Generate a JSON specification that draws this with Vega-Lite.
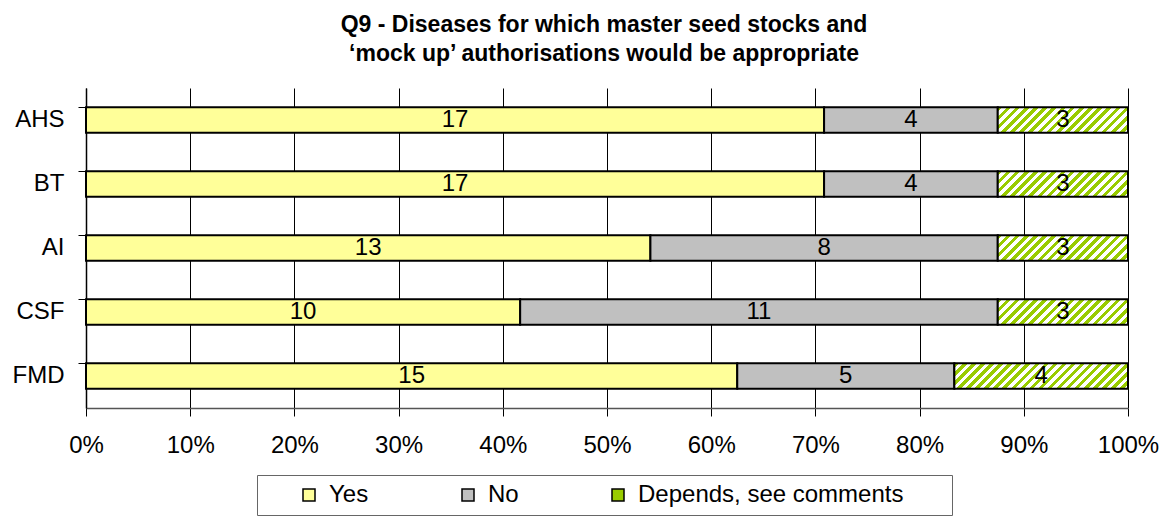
{
  "$schema": "https://vega.github.io/schema/vega-lite/v6.json",
  "width": 1042,
  "height": 320,
  "padding": {"left": 12, "top": 14, "right": 5, "bottom": 5},
  "config": {"view": {"stroke": null}, "font": "Liberation Sans"},
  "title": {
    "text": ["Q9 - Diseases for which master seed stocks and", "‘mock up’ authorisations would be appropriate"],
    "font": "Liberation Sans", "fontSize": 23, "fontWeight": "bold", "color": "black",
    "lineHeight": 29, "offset": 22, "dx": -3, "anchor": "middle"
  },
  "data": {
    "values": [
      {"disease": "AHS", "answer": "Yes", "count": 17},
      {"disease": "AHS", "answer": "No", "count": 4},
      {"disease": "AHS", "answer": "Depends, see comments", "count": 3},
      {"disease": "BT", "answer": "Yes", "count": 17},
      {"disease": "BT", "answer": "No", "count": 4},
      {"disease": "BT", "answer": "Depends, see comments", "count": 3},
      {"disease": "AI", "answer": "Yes", "count": 13},
      {"disease": "AI", "answer": "No", "count": 8},
      {"disease": "AI", "answer": "Depends, see comments", "count": 3},
      {"disease": "CSF", "answer": "Yes", "count": 10},
      {"disease": "CSF", "answer": "No", "count": 11},
      {"disease": "CSF", "answer": "Depends, see comments", "count": 3},
      {"disease": "FMD", "answer": "Yes", "count": 15},
      {"disease": "FMD", "answer": "No", "count": 5},
      {"disease": "FMD", "answer": "Depends, see comments", "count": 4}
    ]
  },
  "transform": [
    {"calculate": "indexof(['Yes','No','Depends, see comments'], datum.answer)", "as": "ord"},
    {"stack": "count", "groupby": ["disease"], "sort": [{"field": "ord", "order": "ascending"}], "offset": "normalize", "as": ["x0", "x1"]},
    {"calculate": "(datum.x0 + datum.x1) / 2", "as": "xm"}
  ],
  "encoding": {
    "y": {
      "field": "disease", "type": "nominal", "sort": ["AHS", "BT", "AI", "CSF", "FMD"],
      "scale": {"paddingInner": 0.6, "paddingOuter": 0.3},
      "axis": {
        "title": null, "bandPosition": 0, "labelFontSize": 24, "labelColor": "black",
        "labelPadding": 14, "tickSize": 8, "tickColor": "black", "domainColor": "black", "domainWidth": 1.5,
        "tickWidth": 1, "grid": false
      }
    }
  },
  "layer": [
    {
      "mark": {"type": "bar", "stroke": "black", "strokeWidth": 2},
      "encoding": {
        "x": {
          "field": "x0", "type": "quantitative", "scale": {"domain": [0, 1], "nice": false},
          "axis": {
            "title": null, "format": "%", "values": [0, 0.1, 0.2, 0.3, 0.4, 0.5, 0.6, 0.7, 0.8, 0.9, 1],
            "labelFontSize": 24, "labelColor": "black", "labelPadding": 17, "tickSize": 8,
            "tickColor": "black", "grid": true, "gridColor": "black", "gridWidth": 1, "gridOpacity": 1,
            "domainColor": "#555555", "domainWidth": 1.5, "labelFlush": false
          }
        },
        "x2": {"field": "x1"},
        "fill": {
          "condition": [
            {
              "test": "datum.answer === 'Depends, see comments' && datum.disease === 'FMD'",
              "value": {
                "gradient": "linear", "x1": 0, "y1": 0, "x2": 1.123, "y2": 0.1655,
                "stops": [
                  {"offset": 0, "color": "#99CC00"}, {"offset": 0.0227, "color": "#99CC00"}, {"offset": 0.0227, "color": "#FFFFFF"}, {"offset": 0.0455, "color": "#FFFFFF"},
                  {"offset": 0.0455, "color": "#99CC00"}, {"offset": 0.0682, "color": "#99CC00"}, {"offset": 0.0682, "color": "#FFFFFF"}, {"offset": 0.0909, "color": "#FFFFFF"},
                  {"offset": 0.0909, "color": "#99CC00"}, {"offset": 0.1136, "color": "#99CC00"}, {"offset": 0.1136, "color": "#FFFFFF"}, {"offset": 0.1364, "color": "#FFFFFF"},
                  {"offset": 0.1364, "color": "#99CC00"}, {"offset": 0.1591, "color": "#99CC00"}, {"offset": 0.1591, "color": "#FFFFFF"}, {"offset": 0.1818, "color": "#FFFFFF"},
                  {"offset": 0.1818, "color": "#99CC00"}, {"offset": 0.2045, "color": "#99CC00"}, {"offset": 0.2045, "color": "#FFFFFF"}, {"offset": 0.2273, "color": "#FFFFFF"},
                  {"offset": 0.2273, "color": "#99CC00"}, {"offset": 0.25, "color": "#99CC00"}, {"offset": 0.25, "color": "#FFFFFF"}, {"offset": 0.2727, "color": "#FFFFFF"},
                  {"offset": 0.2727, "color": "#99CC00"}, {"offset": 0.2955, "color": "#99CC00"}, {"offset": 0.2955, "color": "#FFFFFF"}, {"offset": 0.3182, "color": "#FFFFFF"},
                  {"offset": 0.3182, "color": "#99CC00"}, {"offset": 0.3409, "color": "#99CC00"}, {"offset": 0.3409, "color": "#FFFFFF"}, {"offset": 0.3636, "color": "#FFFFFF"},
                  {"offset": 0.3636, "color": "#99CC00"}, {"offset": 0.3864, "color": "#99CC00"}, {"offset": 0.3864, "color": "#FFFFFF"}, {"offset": 0.4091, "color": "#FFFFFF"},
                  {"offset": 0.4091, "color": "#99CC00"}, {"offset": 0.4318, "color": "#99CC00"}, {"offset": 0.4318, "color": "#FFFFFF"}, {"offset": 0.4545, "color": "#FFFFFF"},
                  {"offset": 0.4545, "color": "#99CC00"}, {"offset": 0.4773, "color": "#99CC00"}, {"offset": 0.4773, "color": "#FFFFFF"}, {"offset": 0.5, "color": "#FFFFFF"},
                  {"offset": 0.5, "color": "#99CC00"}, {"offset": 0.5227, "color": "#99CC00"}, {"offset": 0.5227, "color": "#FFFFFF"}, {"offset": 0.5455, "color": "#FFFFFF"},
                  {"offset": 0.5455, "color": "#99CC00"}, {"offset": 0.5682, "color": "#99CC00"}, {"offset": 0.5682, "color": "#FFFFFF"}, {"offset": 0.5909, "color": "#FFFFFF"},
                  {"offset": 0.5909, "color": "#99CC00"}, {"offset": 0.6136, "color": "#99CC00"}, {"offset": 0.6136, "color": "#FFFFFF"}, {"offset": 0.6364, "color": "#FFFFFF"},
                  {"offset": 0.6364, "color": "#99CC00"}, {"offset": 0.6591, "color": "#99CC00"}, {"offset": 0.6591, "color": "#FFFFFF"}, {"offset": 0.6818, "color": "#FFFFFF"},
                  {"offset": 0.6818, "color": "#99CC00"}, {"offset": 0.7045, "color": "#99CC00"}, {"offset": 0.7045, "color": "#FFFFFF"}, {"offset": 0.7273, "color": "#FFFFFF"},
                  {"offset": 0.7273, "color": "#99CC00"}, {"offset": 0.75, "color": "#99CC00"}, {"offset": 0.75, "color": "#FFFFFF"}, {"offset": 0.7727, "color": "#FFFFFF"},
                  {"offset": 0.7727, "color": "#99CC00"}, {"offset": 0.7955, "color": "#99CC00"}, {"offset": 0.7955, "color": "#FFFFFF"}, {"offset": 0.8182, "color": "#FFFFFF"},
                  {"offset": 0.8182, "color": "#99CC00"}, {"offset": 0.8409, "color": "#99CC00"}, {"offset": 0.8409, "color": "#FFFFFF"}, {"offset": 0.8636, "color": "#FFFFFF"},
                  {"offset": 0.8636, "color": "#99CC00"}, {"offset": 0.8864, "color": "#99CC00"}, {"offset": 0.8864, "color": "#FFFFFF"}, {"offset": 0.9091, "color": "#FFFFFF"},
                  {"offset": 0.9091, "color": "#99CC00"}, {"offset": 0.9318, "color": "#99CC00"}, {"offset": 0.9318, "color": "#FFFFFF"}, {"offset": 0.9545, "color": "#FFFFFF"},
                  {"offset": 0.9545, "color": "#99CC00"}, {"offset": 0.9773, "color": "#99CC00"}, {"offset": 0.9773, "color": "#FFFFFF"}, {"offset": 1, "color": "#FFFFFF"}
                ]
              }
            },
            {
              "test": "datum.answer === 'Depends, see comments'",
              "value": {
                "gradient": "linear", "x1": 0, "y1": 0, "x2": 1.152, "y2": 0.2264,
                "stops": [
                  {"offset": 0, "color": "#99CC00"}, {"offset": 0.0294, "color": "#99CC00"}, {"offset": 0.0294, "color": "#FFFFFF"}, {"offset": 0.0588, "color": "#FFFFFF"},
                  {"offset": 0.0588, "color": "#99CC00"}, {"offset": 0.0882, "color": "#99CC00"}, {"offset": 0.0882, "color": "#FFFFFF"}, {"offset": 0.1176, "color": "#FFFFFF"},
                  {"offset": 0.1176, "color": "#99CC00"}, {"offset": 0.1471, "color": "#99CC00"}, {"offset": 0.1471, "color": "#FFFFFF"}, {"offset": 0.1765, "color": "#FFFFFF"},
                  {"offset": 0.1765, "color": "#99CC00"}, {"offset": 0.2059, "color": "#99CC00"}, {"offset": 0.2059, "color": "#FFFFFF"}, {"offset": 0.2353, "color": "#FFFFFF"},
                  {"offset": 0.2353, "color": "#99CC00"}, {"offset": 0.2647, "color": "#99CC00"}, {"offset": 0.2647, "color": "#FFFFFF"}, {"offset": 0.2941, "color": "#FFFFFF"},
                  {"offset": 0.2941, "color": "#99CC00"}, {"offset": 0.3235, "color": "#99CC00"}, {"offset": 0.3235, "color": "#FFFFFF"}, {"offset": 0.3529, "color": "#FFFFFF"},
                  {"offset": 0.3529, "color": "#99CC00"}, {"offset": 0.3824, "color": "#99CC00"}, {"offset": 0.3824, "color": "#FFFFFF"}, {"offset": 0.4118, "color": "#FFFFFF"},
                  {"offset": 0.4118, "color": "#99CC00"}, {"offset": 0.4412, "color": "#99CC00"}, {"offset": 0.4412, "color": "#FFFFFF"}, {"offset": 0.4706, "color": "#FFFFFF"},
                  {"offset": 0.4706, "color": "#99CC00"}, {"offset": 0.5, "color": "#99CC00"}, {"offset": 0.5, "color": "#FFFFFF"}, {"offset": 0.5294, "color": "#FFFFFF"},
                  {"offset": 0.5294, "color": "#99CC00"}, {"offset": 0.5588, "color": "#99CC00"}, {"offset": 0.5588, "color": "#FFFFFF"}, {"offset": 0.5882, "color": "#FFFFFF"},
                  {"offset": 0.5882, "color": "#99CC00"}, {"offset": 0.6176, "color": "#99CC00"}, {"offset": 0.6176, "color": "#FFFFFF"}, {"offset": 0.6471, "color": "#FFFFFF"},
                  {"offset": 0.6471, "color": "#99CC00"}, {"offset": 0.6765, "color": "#99CC00"}, {"offset": 0.6765, "color": "#FFFFFF"}, {"offset": 0.7059, "color": "#FFFFFF"},
                  {"offset": 0.7059, "color": "#99CC00"}, {"offset": 0.7353, "color": "#99CC00"}, {"offset": 0.7353, "color": "#FFFFFF"}, {"offset": 0.7647, "color": "#FFFFFF"},
                  {"offset": 0.7647, "color": "#99CC00"}, {"offset": 0.7941, "color": "#99CC00"}, {"offset": 0.7941, "color": "#FFFFFF"}, {"offset": 0.8235, "color": "#FFFFFF"},
                  {"offset": 0.8235, "color": "#99CC00"}, {"offset": 0.8529, "color": "#99CC00"}, {"offset": 0.8529, "color": "#FFFFFF"}, {"offset": 0.8824, "color": "#FFFFFF"},
                  {"offset": 0.8824, "color": "#99CC00"}, {"offset": 0.9118, "color": "#99CC00"}, {"offset": 0.9118, "color": "#FFFFFF"}, {"offset": 0.9412, "color": "#FFFFFF"},
                  {"offset": 0.9412, "color": "#99CC00"}, {"offset": 0.9706, "color": "#99CC00"}, {"offset": 0.9706, "color": "#FFFFFF"}, {"offset": 1, "color": "#FFFFFF"}
                ]
              }
            }
          ],
          "field": "answer", "type": "nominal",
          "scale": {"domain": ["Yes", "No", "Depends, see comments"], "range": ["#FFFF99", "#C0C0C0", "#99CC00"]},
          "legend": {
            "title": " ", "titleOrient": "right", "titlePadding": 41, "titleFontSize": 24,
            "orient": "none", "legendX": 171, "legendY": 387, "direction": "horizontal", "columns": 3,
            "columnPadding": 55, "symbolType": "square", "symbolSize": 144, "symbolStrokeColor": "black",
            "symbolStrokeWidth": 1.5, "symbolOffset": 32, "labelOffset": 8, "labelFontSize": 24, "labelColor": "black",
            "labelFont": "Liberation Sans", "padding": 8, "strokeColor": "#666666", "labelLimit": 500,
            "encode": {
              "symbols": {
                "update": {
                  "stroke": {"value": "black"},
                  "strokeWidth": {"value": 1.5},
                  "fill": {
                    "condition": [
                      {"test": "datum.value === 'Yes'", "value": "#FFFF99"},
                      {"test": "datum.value === 'No'", "value": "#C0C0C0"}
                    ],
                    "value": "#99CC00"
                  }
                }
              }
            }
          }
        }
      }
    },
    {
      "mark": {"type": "text", "fontSize": 24, "color": "black", "font": "Liberation Sans", "baseline": "middle", "align": "center"},
      "encoding": {
        "x": {"field": "xm", "type": "quantitative"},
        "text": {"field": "count", "type": "quantitative"}
      }
    }
  ]
}
